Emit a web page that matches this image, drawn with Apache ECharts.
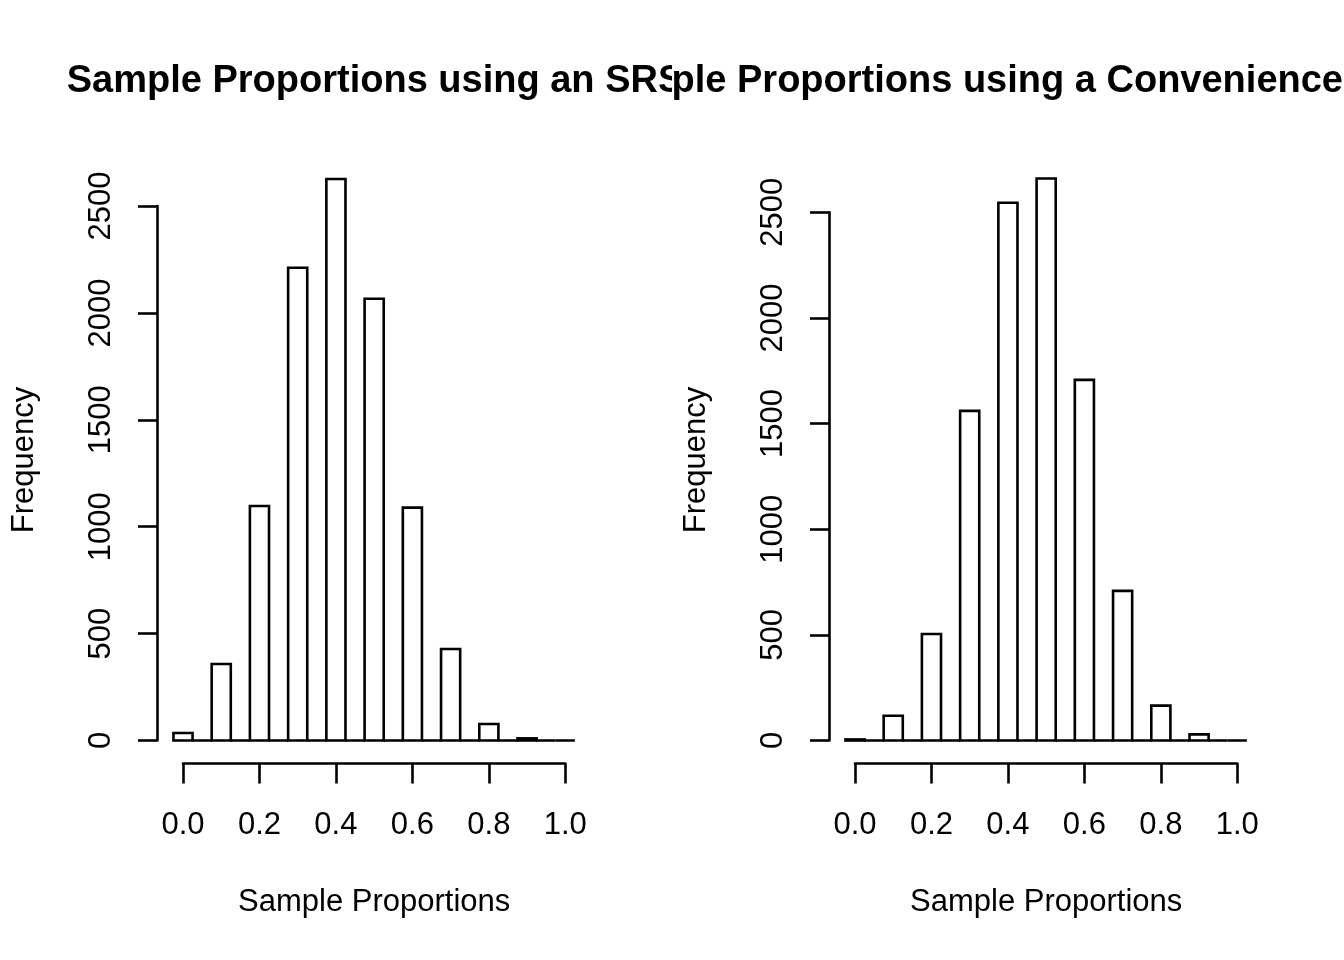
<!DOCTYPE html>
<html>
<head>
<meta charset="utf-8">
<script src="https://cdn.jsdelivr.net/npm/echarts@6/dist/echarts.min.js"></script>
<style>
  html, body { margin: 0; padding: 0; background: #fff; }
  .panel { position: absolute; top: 0; width: 672px; height: 960px; overflow: hidden; }
</style>
</head>
<body>
<div id="left" class="panel" style="left:0"></div>
<div id="right" class="panel" style="left:672px"></div>
<script>
// bin centres (width 0.05), R hist style
const binCenters = [0.00, 0.05, 0.10, 0.15, 0.20, 0.25, 0.30, 0.35, 0.40, 0.45, 0.50,
                    0.55, 0.60, 0.65, 0.70, 0.75, 0.80, 0.85, 0.90, 0.95, 1.00];
const binWidth = 0.05;
const srsCounts  = [35, 0, 358, 0, 1097, 0, 2211, 0, 2626, 0, 2066, 0, 1089, 0, 428, 0, 77, 0, 10, 0, 0];
const convCounts = [5, 0, 117, 0, 504, 0, 1560, 0, 2545, 0, 2660, 0, 1707, 0, 708, 0, 165, 0, 29, 0, 0];
const xTicks = [0, 0.2, 0.4, 0.6, 0.8, 1.0];
const yTicks = [0, 500, 1000, 1500, 2000, 2500];

const FONT = '"Liberation Sans", Arial, sans-serif';
const LW = 2.6;

function makePanel(el, title, counts, titleX, gridTop) {
    var chart = echarts.init(document.getElementById(el));
    var data = binCenters.map((c, i) => [c - binWidth / 2, c + binWidth / 2, counts[i]]);

    var option = {
        animation: false,
        backgroundColor: '#fff',
        grid: { left: 183, right: 106.7, top: gridTop, bottom: 219.5 },
        xAxis: {
            type: 'value',
            min: xTicks[0], max: xTicks[xTicks.length - 1], interval: 0.2,
            offset: 23,
            name: 'Sample Proportions',
            nameLocation: 'middle',
            nameGap: 123,
            nameTextStyle: { fontFamily: FONT, fontSize: 31, color: '#000' },
            axisLine: { onZero: false, lineStyle: { color: '#000', width: LW } },
            axisTick: { length: 20, lineStyle: { color: '#000', width: LW } },
            axisLabel: { margin: 46, fontFamily: FONT, fontSize: 31, color: '#000',
                         formatter: v => v.toFixed(1) },
            splitLine: { show: false }
        },
        yAxis: {
            type: 'value',
            min: yTicks[0], max: yTicks[yTicks.length - 1], interval: 500,
            offset: 26,
            axisLine: { show: true, onZero: false, lineStyle: { color: '#000', width: LW } },
            axisTick: { show: true, length: 19, lineStyle: { color: '#000', width: LW } },
            axisLabel: { rotate: 90, margin: 40, fontFamily: FONT, fontSize: 31, color: '#000',
                         formatter: v => String(v) },
            splitLine: { show: false }
        },
        graphic: [
            {
                type: 'text', x: titleX, y: 82,
                style: { text: title, font: 'bold 38px ' + FONT, fill: '#000',
                         textAlign: 'center', textVerticalAlign: 'middle' }
            },
            {
                type: 'text', x: 24, y: 460, rotation: Math.PI / 2,
                style: { text: 'Frequency', font: '31px ' + FONT, fill: '#000',
                         textAlign: 'center', textVerticalAlign: 'middle' }
            }
        ],
        series: [{
            type: 'custom',
            clip: false,
            data: data,
            renderItem: function (params, api) {
                var p0 = api.coord([api.value(0), api.value(2)]);
                var p1 = api.coord([api.value(1), 0]);
                return {
                    type: 'rect',
                    shape: { x: p0[0], y: p0[1], width: p1[0] - p0[0], height: p1[1] - p0[1] },
                    style: { fill: '#fff', stroke: '#000', lineWidth: LW }
                };
            }
        }]
    };
    chart.setOption(option);
    return chart;
}

makePanel('left', 'Sample Proportions using an SRS', srsCounts, 375, 206);
makePanel('right', 'Sample Proportions using a Convenience Sample', convCounts, 368, 212.3);
</script>
</body>
</html>
